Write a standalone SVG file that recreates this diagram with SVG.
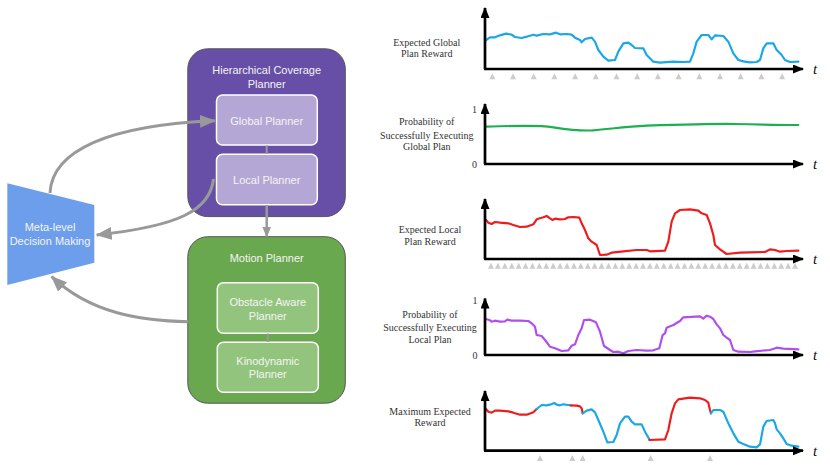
<svg xmlns="http://www.w3.org/2000/svg" width="830" height="467" viewBox="0 0 830 467">
<style>
.lbl{font-family:"Liberation Serif",serif;font-size:10px;fill:#333;text-anchor:middle}
.num{font-family:"Liberation Serif",serif;font-size:10px;fill:#333;text-anchor:middle}
.tt{font-family:"Liberation Serif",serif;font-style:italic;font-size:15px;fill:#111;text-anchor:middle}
.nt{font-family:"Liberation Sans",Arial,sans-serif;font-size:11px;fill:#f4f4f4;text-anchor:middle}
.axis{stroke:#000;stroke-width:2.7;fill:none}
.crv{fill:none;stroke-width:6.5;stroke-linejoin:round;stroke-linecap:round}
.conn{fill:none;stroke:#999;stroke-width:3}
.tri{fill:#cccccc}
</style>
<defs>
<marker id="ah" markerUnits="userSpaceOnUse" markerWidth="16" markerHeight="14" refX="15" refY="6.5" orient="auto">
<path d="M0,0 L16,6.5 L0,13 Z" fill="#999"/>
</marker>
<marker id="ahs" markerUnits="userSpaceOnUse" markerWidth="11" markerHeight="10" refX="10" refY="4.5" orient="auto">
<path d="M0,0 L11,4.5 L0,9 Z" fill="#999"/>
</marker>
<marker id="ak" markerUnits="userSpaceOnUse" markerWidth="11" markerHeight="10" refX="10" refY="4.5" orient="auto">
<path d="M0,0 L11,4.5 L0,9 Z" fill="#000"/>
</marker>
<path id="tr" d="M-3,6 L0,0 L3,6 Z" class="tri"/>
</defs>

<!-- Left diagram nodes -->
<g id="meta">
<path d="M7.3,183.3 L94.3,205 L94.3,262.7 L7.3,285 Z" fill="#6d9eeb"/>
<text class="nt" x="50" y="231">Meta-level</text>
<text class="nt" x="50" y="244.5">Decision Making</text>
</g>
<g id="hcp">
<rect x="187.8" y="48.8" width="157.5" height="167.8" rx="20" fill="#674ea7" stroke="#555" stroke-width="1"/>
<text class="nt" x="266.7" y="74">Hierarchical Coverage</text>
<text class="nt" x="266.7" y="88.3">Planner</text>
</g>
<g id="global">
<rect x="216.5" y="95" width="100.8" height="50" rx="6" fill="#b4a7d6" stroke="#fff" stroke-width="1.5"/>
<text class="nt" x="266.7" y="124.7">Global Planner</text>
</g>
<g id="local">
<rect x="216.5" y="154.3" width="100.8" height="50.5" rx="6" fill="#b4a7d6" stroke="#fff" stroke-width="1.5"/>
<text class="nt" x="266.7" y="184">Local Planner</text>
</g>
<g id="motion">
<rect x="187.8" y="236.7" width="157.5" height="166.5" rx="20" fill="#6aa84f" stroke="#555" stroke-width="1"/>
<text class="nt" x="266.7" y="262">Motion Planner</text>
</g>
<g id="obstacle">
<rect x="217.3" y="282.7" width="101" height="50.6" rx="6" fill="#93c47d" stroke="#fff" stroke-width="1.5"/>
<text class="nt" x="267.8" y="305.5">Obstacle Aware</text>
<text class="nt" x="267.8" y="320">Planner</text>
</g>
<g id="kino">
<rect x="217.3" y="342.3" width="101" height="50" rx="6" fill="#93c47d" stroke="#fff" stroke-width="1.5"/>
<text class="nt" x="267.8" y="365">Kinodynamic</text>
<text class="nt" x="267.8" y="378.3">Planner</text>
</g>

<!-- Connectors -->
<g id="connectors">
<line x1="266.7" y1="145.5" x2="266.7" y2="154" stroke="#999" stroke-width="2"/>
<line x1="267.8" y1="333.5" x2="267.8" y2="342" stroke="#999" stroke-width="2"/>
<line x1="266.7" y1="205" x2="266.7" y2="236.5" stroke="#999" stroke-width="2.5" marker-end="url(#ahs)"/>
<path class="conn" d="M50,193 C52,150 110,125 215,120.7" marker-end="url(#ah)"/>
<path class="conn" d="M213.5,179 C210,210 180,226 96.7,235" marker-end="url(#ah)"/>
<path class="conn" d="M188.5,321.7 C140,321 90,313 51.7,276.7" marker-end="url(#ah)"/>
</g>

<!-- Plot 1 -->
<g id="plot1">
<text class="lbl" x="426.7" y="46">Expected Global</text>
<text class="lbl" x="426.7" y="57.3">Plan Reward</text>
<path class="crv" stroke="#1aa7e6" transform="translate(380,0) scale(0.33333)" d="M318,120 L330,112 L345,112 L360,106 L378,101 L395,104 L405,111 L425,114 L440,110 L460,104 L470,107 L490,102 L510,103 L528,98 L540,103 L560,102 L575,104 L585,113 L600,120 L605,127 L615,117 L635,113 L645,125 L655,150 L670,170 L685,182 L705,180 L715,155 L730,130 L745,128 L755,135 L765,144 L790,145 L800,165 L820,185 L840,188 L880,185 L910,186 L930,185 L940,160 L950,125 L965,105 L985,105 L995,118 L1005,106 L1030,108 L1045,125 L1060,160 L1075,180 L1090,184 L1110,187 L1130,186 L1140,180 L1150,145 L1160,130 L1180,130 L1190,150 L1205,165 L1215,180 L1230,186 L1255,185"/>
<line class="axis" x1="485" y1="69" x2="485" y2="8" marker-end="url(#ak)"/>
<line class="axis" x1="484" y1="69" x2="803" y2="69" marker-end="url(#ak)"/>
<text class="tt" x="815" y="74">t</text>
<g>
<use href="#tr" x="492.3" y="73.3"/><use href="#tr" x="513" y="73.3"/><use href="#tr" x="533.7" y="73.3"/><use href="#tr" x="554.4" y="73.3"/><use href="#tr" x="575.1" y="73.3"/><use href="#tr" x="595.8" y="73.3"/><use href="#tr" x="616.5" y="73.3"/><use href="#tr" x="637.2" y="73.3"/><use href="#tr" x="657.9" y="73.3"/><use href="#tr" x="678.6" y="73.3"/><use href="#tr" x="699.3" y="73.3"/><use href="#tr" x="720" y="73.3"/><use href="#tr" x="740.7" y="73.3"/><use href="#tr" x="761.4" y="73.3"/><use href="#tr" x="782.1" y="73.3"/>
</g>
</g>

<!-- Plot 2 -->
<g id="plot2">
<text class="lbl" x="426.7" y="125">Probability of</text>
<text class="lbl" x="426.7" y="138.5">Successfully Executing</text>
<text class="lbl" x="426.7" y="150">Global Plan</text>
<text class="num" x="474.5" y="112.5">1</text>
<text class="num" x="474.5" y="168">0</text>
<path class="crv" stroke="#1db04e" transform="translate(380,90) scale(0.33333)" d="M318,110 C400,108 470,104 520,112 C560,118 600,124 640,121 C690,117 740,110 800,107 C900,104 1000,101 1060,102 C1150,104 1200,105 1255,105"/>
<line class="axis" x1="485" y1="164" x2="485" y2="104" marker-end="url(#ak)"/>
<line class="axis" x1="484" y1="164" x2="803" y2="164" marker-end="url(#ak)"/>
<text class="tt" x="815" y="169">t</text>
</g>

<!-- Plot 3 -->
<g id="plot3">
<text class="lbl" x="430" y="233">Expected Local</text>
<text class="lbl" x="430" y="245">Plan Reward</text>
<path class="crv" stroke="#ee1c1c" transform="translate(380,185) scale(0.33333)" d="M318,105 L325,113 L335,117 L345,111 L360,113 L385,115 L400,120 L420,126 L440,125 L460,118 L470,103 L490,97 L500,93 L510,100 L518,105 L525,101 L540,103 L555,102 L565,97 L580,96 L598,98 L605,115 L615,135 L625,160 L635,170 L650,180 L660,210 L680,209 L695,203 L730,199 L770,195 L800,195 L810,199 L855,197 L865,170 L875,110 L885,85 L900,75 L930,73 L955,77 L965,85 L980,90 L990,115 L1000,150 L1005,180 L1020,193 L1040,207 L1080,203 L1110,202 L1155,201 L1170,193 L1185,195 L1200,200 L1220,198 L1255,197"/>
<line class="axis" x1="485" y1="259" x2="485" y2="199" marker-end="url(#ak)"/>
<line class="axis" x1="484" y1="259" x2="803" y2="259" marker-end="url(#ak)"/>
<text class="tt" x="815" y="264">t</text>
<g>
<use href="#tr" x="491" y="262.8"/><use href="#tr" x="497.91" y="262.8"/><use href="#tr" x="504.82" y="262.8"/><use href="#tr" x="511.73" y="262.8"/><use href="#tr" x="518.64" y="262.8"/><use href="#tr" x="525.55" y="262.8"/><use href="#tr" x="532.46" y="262.8"/><use href="#tr" x="539.37" y="262.8"/><use href="#tr" x="546.28" y="262.8"/><use href="#tr" x="553.19" y="262.8"/><use href="#tr" x="560.1" y="262.8"/><use href="#tr" x="567.01" y="262.8"/><use href="#tr" x="573.92" y="262.8"/><use href="#tr" x="580.83" y="262.8"/><use href="#tr" x="587.74" y="262.8"/><use href="#tr" x="594.65" y="262.8"/><use href="#tr" x="601.56" y="262.8"/><use href="#tr" x="608.47" y="262.8"/><use href="#tr" x="615.38" y="262.8"/><use href="#tr" x="622.29" y="262.8"/><use href="#tr" x="629.2" y="262.8"/><use href="#tr" x="636.11" y="262.8"/><use href="#tr" x="643.02" y="262.8"/><use href="#tr" x="649.93" y="262.8"/><use href="#tr" x="656.84" y="262.8"/><use href="#tr" x="663.75" y="262.8"/><use href="#tr" x="670.66" y="262.8"/><use href="#tr" x="677.57" y="262.8"/><use href="#tr" x="684.48" y="262.8"/><use href="#tr" x="691.39" y="262.8"/><use href="#tr" x="698.3" y="262.8"/><use href="#tr" x="705.21" y="262.8"/><use href="#tr" x="712.12" y="262.8"/><use href="#tr" x="719.03" y="262.8"/><use href="#tr" x="725.94" y="262.8"/><use href="#tr" x="732.85" y="262.8"/><use href="#tr" x="739.76" y="262.8"/><use href="#tr" x="746.67" y="262.8"/><use href="#tr" x="753.58" y="262.8"/><use href="#tr" x="760.49" y="262.8"/><use href="#tr" x="767.4" y="262.8"/><use href="#tr" x="774.31" y="262.8"/><use href="#tr" x="781.22" y="262.8"/><use href="#tr" x="788.13" y="262.8"/><use href="#tr" x="795.04" y="262.8"/>
</g>
</g>

<!-- Plot 4 -->
<g id="plot4">
<text class="lbl" x="430" y="318">Probability of</text>
<text class="lbl" x="430" y="331">Successfully Executing</text>
<text class="lbl" x="430" y="343">Local Plan</text>
<text class="num" x="475" y="303.5">1</text>
<text class="num" x="475" y="359">0</text>
<path class="crv" stroke="#b04ef0" transform="translate(380,285) scale(0.33333)" d="M318,102 L330,106 L335,110 L345,107 L360,110 L375,109 L382,104 L395,107 L420,107 L445,108 L455,115 L465,125 L470,150 L485,153 L495,165 L510,185 L525,190 L545,198 L565,196 L575,182 L585,178 L595,150 L605,130 L612,105 L630,104 L648,112 L660,140 L672,183 L690,195 L700,201 L715,200 L730,205 L745,198 L770,195 L800,197 L820,196 L838,190 L848,150 L855,145 L860,128 L880,120 L900,108 L910,97 L960,94 L970,101 L980,92 L990,95 L1000,102 L1010,118 L1020,130 L1030,150 L1040,158 L1050,165 L1060,195 L1075,200 L1110,201 L1125,199 L1170,195 L1190,188 L1210,191 L1255,193"/>
<line class="axis" x1="485" y1="355" x2="485" y2="298.5" marker-end="url(#ak)"/>
<line class="axis" x1="484" y1="355" x2="803" y2="355" marker-end="url(#ak)"/>
<text class="tt" x="815" y="360">t</text>
</g>

<!-- Plot 5 -->
<g id="plot5">
<text class="lbl" x="430" y="414.5">Maximum Expected</text>
<text class="lbl" x="430" y="426">Reward</text>
<g transform="translate(380,380) scale(0.33333)">
<path class="crv" stroke="#ee1c1c" d="M318,87 L325,95 L335,98 L345,92 L360,92 L385,94 L400,98 L420,104 L440,104 L460,97 L470,87"/>
<path class="crv" stroke="#1aa7e6" d="M470,87 L485,75 L500,76 L510,74 L523,69 L530,74 L540,76 L550,73 L565,75 L572,76"/>
<path class="crv" stroke="#ee1c1c" d="M572,76 L590,77 L600,79 L605,85 L608,100"/>
<path class="crv" stroke="#1aa7e6" d="M608,100 L620,92 L635,88 L645,97 L655,120 L670,155 L682,187 L700,186 L710,165 L720,130 L735,110 L745,110 L755,125 L765,133 L785,133 L795,155 L808,178"/>
<path class="crv" stroke="#ee1c1c" d="M808,180 L855,178 L865,150 L875,100 L885,70 L895,58 L930,53 L960,55 L975,60 L985,68 L990,90 L993,100"/>
<path class="crv" stroke="#1aa7e6" d="M993,100 L1000,90 L1020,90 L1030,95 L1045,130 L1060,160 L1075,185 L1090,192 L1110,200 L1130,202 L1140,193 L1150,140 L1160,123 L1180,120 L1185,130 L1190,148 L1200,160 L1210,175 L1220,192 L1235,197 L1255,200"/>
</g>
<line class="axis" x1="485" y1="450.7" x2="485" y2="391" marker-end="url(#ak)"/>
<line class="axis" x1="484" y1="450.7" x2="803" y2="450.7" marker-end="url(#ak)"/>
<text class="tt" x="815" y="456">t</text>
<g>
<use href="#tr" x="540" y="455"/><use href="#tr" x="572.3" y="455"/><use href="#tr" x="582.7" y="455"/><use href="#tr" x="650.7" y="455"/><use href="#tr" x="710" y="455"/>
</g>
</g>
</svg>
